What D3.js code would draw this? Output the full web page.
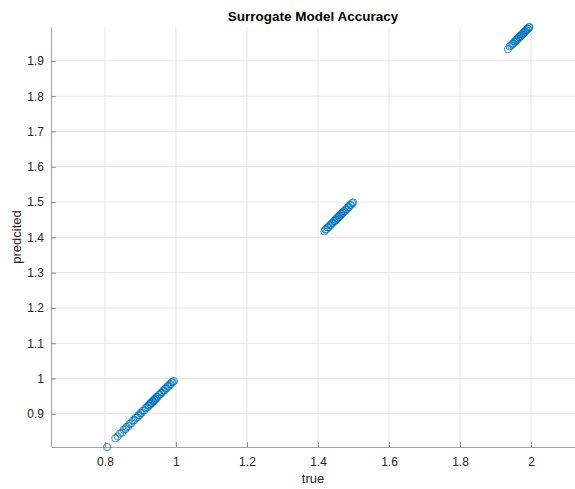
<!DOCTYPE html>
<html>
<head>
<meta charset="utf-8">
<script src="https://cdn.jsdelivr.net/npm/d3@7"></script>
<style>
  html, body { margin: 0; padding: 0; background: #fff; }
  svg { display: block; }
  text { font-family: "Liberation Sans", Arial, Helvetica, sans-serif; }
</style>
</head>
<body>
<svg id="chart" width="575" height="489"></svg>
<script>
// True vs. predicted responses of the surrogate model
const trueVals = [
  0.806, 0.829, 0.836, 0.842, 0.848, 0.853, 0.858, 0.861, 0.866, 0.870,
  0.874, 0.879, 0.883, 0.887, 0.891, 0.894, 0.897, 0.900, 0.903, 0.907,
  0.911, 0.915, 0.919, 0.922, 0.924, 0.926, 0.928, 0.930, 0.932, 0.934,
  0.936, 0.938, 0.940, 0.942, 0.944, 0.946, 0.949, 0.952, 0.955, 0.958,
  0.961, 0.964, 0.967, 0.970, 0.973, 0.976, 0.979, 0.982, 0.985, 0.988,
  0.991, 0.994,
  1.418, 1.421, 1.424, 1.427, 1.430, 1.433, 1.436, 1.439, 1.442, 1.445,
  1.447, 1.449, 1.451, 1.453, 1.455, 1.457, 1.459, 1.461, 1.463, 1.465,
  1.467, 1.469, 1.471, 1.473, 1.475, 1.478, 1.481, 1.484, 1.487, 1.490,
  1.493, 1.496, 1.499,
  1.935, 1.940, 1.944, 1.947, 1.950, 1.953, 1.956, 1.958, 1.960, 1.962,
  1.964, 1.966, 1.968, 1.970, 1.972, 1.974, 1.976, 1.978, 1.980, 1.982,
  1.984, 1.986, 1.988, 1.990, 1.992, 1.994, 1.996
];
const predVals = [
  0.806, 0.831, 0.836, 0.844, 0.847, 0.855, 0.857, 0.863, 0.865, 0.872,
  0.873, 0.881, 0.882, 0.889, 0.890, 0.896, 0.896, 0.902, 0.902, 0.909,
  0.910, 0.917, 0.918, 0.924, 0.923, 0.928, 0.927, 0.932, 0.931, 0.936,
  0.935, 0.940, 0.939, 0.944, 0.943, 0.948, 0.948, 0.954, 0.954, 0.960,
  0.960, 0.966, 0.966, 0.972, 0.972, 0.978, 0.978, 0.984, 0.984, 0.989,
  0.990, 0.993,
  1.417, 1.422, 1.423, 1.428, 1.429, 1.434, 1.435, 1.440, 1.441, 1.446,
  1.446, 1.450, 1.450, 1.454, 1.454, 1.458, 1.458, 1.462, 1.462, 1.466,
  1.466, 1.470, 1.470, 1.474, 1.474, 1.479, 1.480, 1.485, 1.486, 1.491,
  1.492, 1.497, 1.499,
  1.933, 1.941, 1.943, 1.948, 1.949, 1.954, 1.955, 1.959, 1.959, 1.963,
  1.963, 1.967, 1.967, 1.971, 1.971, 1.975, 1.975, 1.979, 1.979, 1.983,
  1.983, 1.987, 1.987, 1.991, 1.991, 1.995, 1.996
];
const xTicks = [0.8, 1, 1.2, 1.4, 1.6, 1.8, 2];
const yTicks = [0.9, 1, 1.1, 1.2, 1.3, 1.4, 1.5, 1.6, 1.7, 1.8, 1.9];
const xDomain = [0.648, 2.124];
const yDomain = [0.806, 1.996];

const points = trueVals.map((t, i) => ({ t, p: predVals[i] }));

const svg = d3.select("#chart");
const plotLeft = 51, plotRight = 575, plotTop = 27, plotBottom = 447;

const x = d3.scaleLinear().domain(xDomain).range([plotLeft, plotRight]);
const y = d3.scaleLinear().domain(yDomain).range([plotBottom, plotTop]);

// grid
svg.append("g").selectAll("line").data(xTicks).join("line")
  .attr("x1", d => x(d)).attr("x2", d => x(d))
  .attr("y1", plotTop).attr("y2", plotBottom)
  .attr("stroke", "#e6e6e6").attr("stroke-width", 1);
svg.append("g").selectAll("line").data(yTicks).join("line")
  .attr("x1", plotLeft).attr("x2", plotRight)
  .attr("y1", d => y(d)).attr("y2", d => y(d))
  .attr("stroke", "#e6e6e6").attr("stroke-width", 1);

// axes with inward ticks
const xAxis = d3.axisBottom(x).tickValues(xTicks).tickSizeInner(-5).tickSizeOuter(0)
  .tickPadding(10).tickFormat(d3.format("~g"));
const yAxis = d3.axisLeft(y).tickValues(yTicks).tickSizeInner(-5).tickSizeOuter(0)
  .tickPadding(7).tickFormat(d3.format("~g"));

const gx = svg.append("g").attr("transform", `translate(0,${plotBottom})`).call(xAxis);
const gy = svg.append("g").attr("transform", `translate(${plotLeft},0)`).call(yAxis);
[gx, gy].forEach(g => {
  g.select(".domain").attr("stroke", "#a6a6a6").attr("stroke-width", 1.2);
  g.selectAll(".tick line").attr("stroke", "#8a8a8a");
  g.selectAll(".tick text").attr("fill", "#262626")
    .style("font-size", "12px").style("font-family", "'Liberation Sans', Arial, sans-serif");
});

// markers
svg.append("g").selectAll("circle").data(points).join("circle")
  .attr("cx", d => x(d.t)).attr("cy", d => y(d.p)).attr("r", 3.6)
  .attr("fill", "none").attr("stroke", "#0072BD").attr("stroke-width", 0.8);

// labels
svg.append("text").attr("x", (plotLeft + plotRight) / 2).attr("y", 21)
  .attr("text-anchor", "middle").attr("font-weight", "bold")
  .attr("font-size", 13.5).attr("fill", "#000").text("Surrogate Model Accuracy");
svg.append("text").attr("x", (plotLeft + plotRight) / 2).attr("y", 483)
  .attr("text-anchor", "middle").attr("font-size", 13).attr("fill", "#262626").text("true");
svg.append("text").attr("transform", `translate(21,${(plotTop + plotBottom) / 2}) rotate(-90)`)
  .attr("text-anchor", "middle").attr("font-size", 13).attr("fill", "#262626").text("predcited");
</script>
</body>
</html>
